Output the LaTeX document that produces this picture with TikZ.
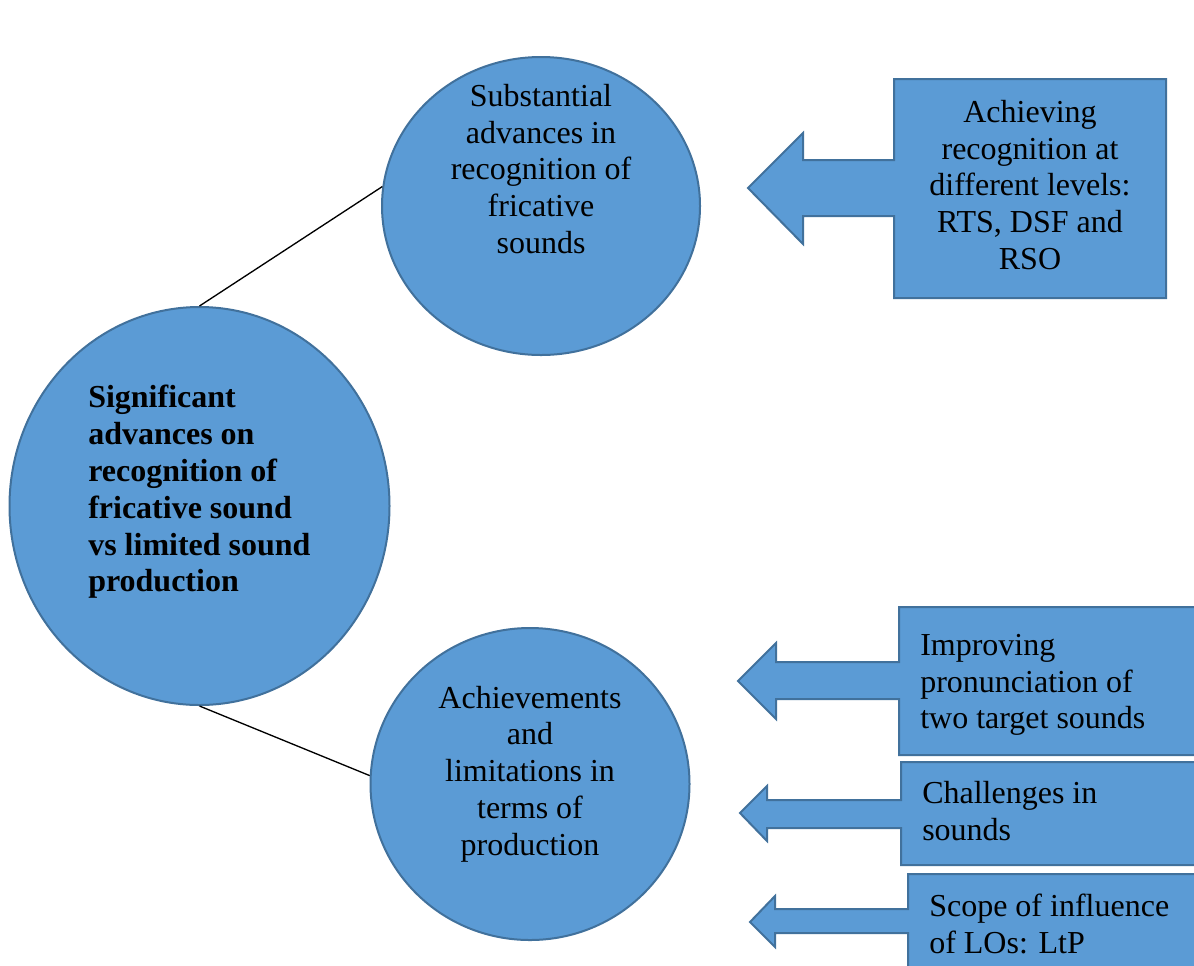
\documentclass[tikz,border=0pt]{standalone}
\usepackage{fontspec}
\setmainfont{Liberation Serif}
\usetikzlibrary{shapes.geometric}
\definecolor{blobfill}{HTML}{5B9BD5}
\definecolor{blobline}{HTML}{41719C}
\begin{document}
\begin{tikzpicture}[x=0.75pt,y=-0.75pt,
  blob/.style={ellipse,draw=blobline,fill=blobfill,line width=1.5pt,inner sep=0pt},
  callout/.style={draw=blobline,fill=blobfill,line width=1.5pt,line join=miter},
  label/.style={font=\fontsize{24}{27.6}\selectfont,text=black,inner sep=0pt},
  link/.style={draw=black,line width=1pt}]
\useasboundingbox (0,0) rectangle (1194,965);
\clip (0,0) rectangle (1194,965);
\fill[white] (0,0) rectangle (1194,965);

% circles
\node[blob,minimum width=285pt,minimum height=298.5pt] (big) at (199.5,506) {};
\node[blob,minimum width=238.5pt,minimum height=223.5pt] (top) at (541,206) {};
\node[blob,minimum width=239.25pt,minimum height=234pt] (bot) at (530,784) {};

% connectors from the central circle
\draw[link] (big.north) -- (top.173);
\draw[link] (big.south) -- (bot.177);

% circle texts
\node[label,align=left,font=\fontsize{24}{27.6}\selectfont\bfseries,anchor=west] (bigtext) at (88,492)
  {Significant\\advances on\\recognition of\\fricative sound\\vs limited sound\\production};
\node[label,align=center] (toptext) at (541,169)
  {Substantial\\advances in\\recognition of\\fricative\\sounds};
\node[label,align=center] (bottext) at (530,774)
  {Achievements\\and\\limitations in\\terms of\\production};

% left-pointing callouts
\draw[callout] (894,79) -- (1166,79) -- (1166,298) -- (894,298) -- (894,216) -- (803,216)
  -- (803,244) -- (748,188) -- (803,133) -- (803,160) -- (894,160) -- cycle;
\draw[callout] (899,607) -- (1210,607) -- (1210,755) -- (899,755) -- (899,699) -- (776,699)
  -- (776,719) -- (738,681) -- (776,643) -- (776,662) -- (899,662) -- cycle;
\draw[callout] (901,762) -- (1210,762) -- (1210,865) -- (901,865) -- (901,828) -- (767,828)
  -- (767,841) -- (740,813) -- (767,786) -- (767,800) -- (901,800) -- cycle;
\draw[callout] (908,874) -- (1210,874) -- (1210,990) -- (908,990) -- (908,933) -- (775,933)
  -- (775,947) -- (750,922) -- (775,896) -- (775,909) -- (908,909) -- cycle;

% callout texts
\node[label,align=center] (c1) at (1030,185)
  {Achieving\\recognition at\\different levels:\\RTS, DSF and\\RSO};
\node[label,align=left,anchor=west] (c2) at (920,685)
  {Improving\\pronunciation of\\two target sounds};
\node[label,align=left,anchor=west] (c3) at (922,811)
  {Challenges in\\sounds};
\node[label,align=left,anchor=west] (c4) at (929,924)
  {Scope of influence\\of LOs: LtP};
\end{tikzpicture}
\end{document}
